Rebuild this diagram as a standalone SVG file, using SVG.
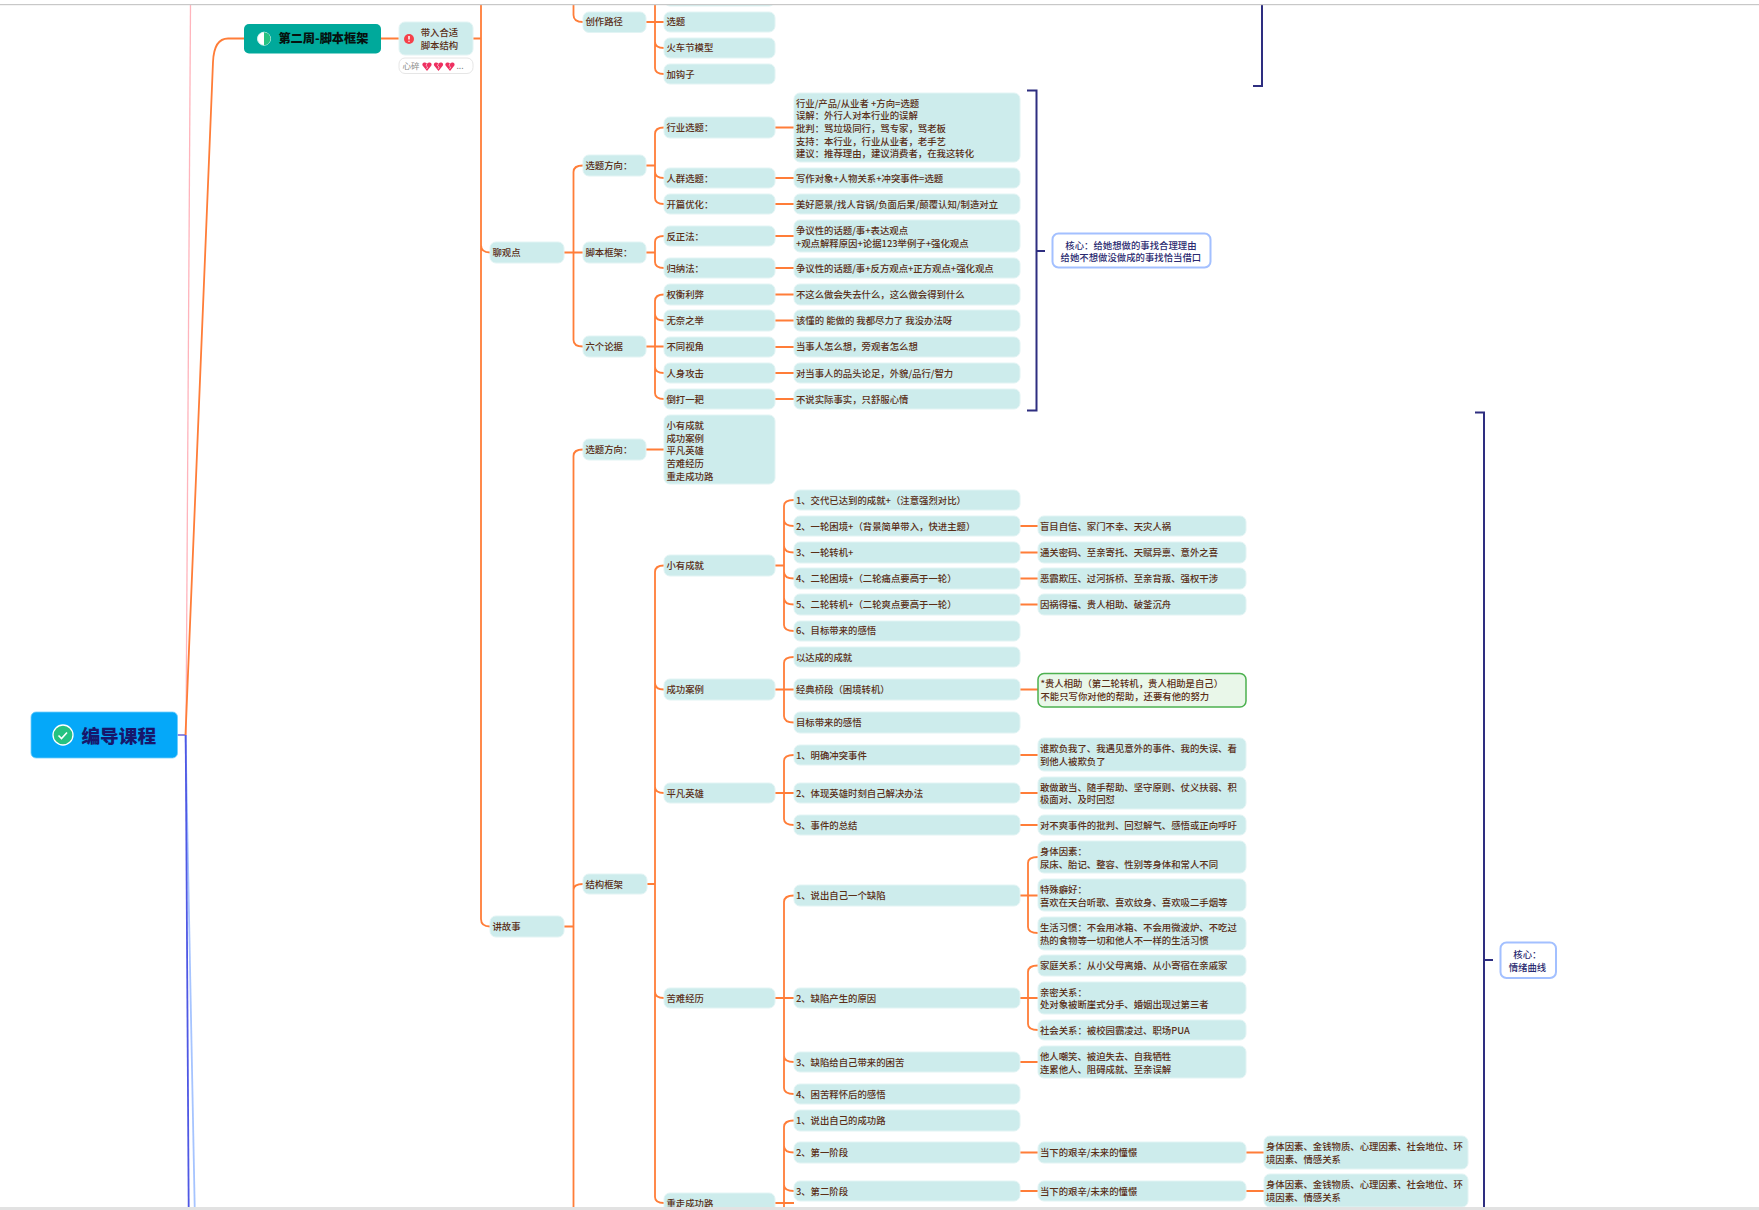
<svg xmlns="http://www.w3.org/2000/svg" width="1759" height="1210" viewBox="0 0 1759 1210">
<style>
text{font-family:"Noto Sans CJK SC","Liberation Sans",sans-serif;font-size:9.4px;font-weight:500;fill:#5a2e16;transform:translate(-.6px,-.4px)}
.n{fill:#cdecec;stroke:#e2f4f4;stroke-width:1}
.c{text-anchor:middle}
.k{fill:#fff;stroke:#a3c0ff;stroke-width:2}
.kt{fill:#2a2a70}
.l{fill:none;stroke:#ff7d38;stroke-width:1.8}
.b{fill:none;stroke:#2e2e80;stroke-width:2}
</style>
<defs><g id="heart"><path d="M0 4.500l-4.200-5.200c-1.600-2.500 1.800-4.800 4.200-2.300 2.400-2.500 5.800-.2 4.200 2.300z" fill="#ee3060"/><path d="M0-3l-1 2 1.600 1.500-1 2" fill="none" stroke="#fff" stroke-width=".6"/></g></defs>
<rect width="1759" height="1210" fill="#fff"/>
<g id="connectors">
<path d="M190.5 5L186 735" fill="none" stroke="#ffb4bc" stroke-width="1.3"/>
<path d="M185.500 735L194.700 1207" fill="none" stroke="#a6c4ff" stroke-width="1.8"/>
<path d="M185.700 735L188.700 1207" fill="none" stroke="#4f58e4" stroke-width="1.8"/>
<path d="M177 735H185.500" fill="none" stroke="#6a63d8" stroke-width="1.5"/>
<path class="l" d="M185.500 735L213 62Q214 38.500 228 38.500H244"/>
<path class="l" d="M381 38.500H399M473 38.500H481M481 5V245Q481 252.500 490 252.500M481 240V919Q481 926.500 490 926.500"/>
<path class="l" d="M573.500 5V15Q573.500 22 583 22M564 252.500H583M583 165.500Q573.500 165.500 573.500 172V340Q573.500 346.500 583 346.500M564 926.500H573.500M583 449.500Q573.500 449.500 573.500 456V1207M583 884Q573.500 884 573.500 890"/>
<path class="l" d="M646 22H664M655 5V68Q655 74 664 74M655 42Q655 48 664 48"/>
<path class="l" d="M646 165.500H655M664 127.500Q655 127.500 655 134V198Q655 204 664 204M655 172Q655 178 664 178"/>
<path class="l" d="M646 252.500H655M664 236Q655 236 655 242V262Q655 268 664 268"/>
<path class="l" d="M646 346.500H664M664 294.500Q655 294.500 655 301V393Q655 399 664 399M655 314Q655 320.500 664 320.500M655 367Q655 373 664 373"/>
<path class="l" d="M775 127.500H794M775 178H794M775 204H794M775 236H794M775 268H794M775 294.500H794M775 320.500H794M775 347H794M775 373H794M775 399H794"/>
<path class="l" d="M646 449.500H664M647 884H655M664 565.500Q655 565.500 655 572V1197Q655 1203 664 1203M655 683Q655 689.500 664 689.500M655 787Q655 793 664 793M655 992Q655 998 664 998"/>
<path class="l" d="M775 565.500H784M794 500Q784 500 784 506V625Q784 631 794 631M784 520Q784 526 794 526M784 546Q784 552.500 794 552.500M784 572Q784 578.500 794 578.500M784 598Q784 604.500 794 604.500"/>
<path class="l" d="M1020 526H1038M1020 552.500H1038M1020 578.500H1038M1020 604.500H1038"/>
<path class="l" d="M775 689.500H794M794 657Q784 657 784 663V716Q784 722.500 794 722.500M1020 689.500H1038"/>
<path class="l" d="M775 793H794M794 755Q784 755 784 761V819Q784 825 794 825M1020 755H1038M1020 793H1038M1020 825H1038"/>
<path class="l" d="M775 998H794M794 895.500Q784 895.500 784 902V1088Q784 1094 794 1094M784 1056Q784 1062 794 1062M1020 1062H1038"/>
<path class="l" d="M1020 895.500H1038M1038 857Q1028 857 1028 863V927Q1028 933 1038 933"/>
<path class="l" d="M1020 998H1038M1038 965.500Q1028 965.500 1028 972V1024Q1028 1030 1038 1030"/>
<path class="l" d="M775 1203H794M794 1120.500Q784 1120.500 784 1127V1207M784 1146Q784 1152.500 794 1152.500M784 1185Q784 1191 794 1191M1020 1152.500H1038M1020 1191H1038M1245 1152.500H1264M1245 1191H1264"/>
<path class="b" d="M1253 86H1262V5M1027 90.500H1036.500V410.500H1027M1036.500 251H1045M1475 412.500H1484V1207M1484 960H1493"/>
</g>
<g id="root"><rect x="31" y="712" width="146.500" height="46" rx="5" fill="#05a8f9" stroke="#6fcdfb" stroke-width=".8"/><circle cx="63" cy="735" r="10" fill="#26c281" stroke="#fff" stroke-width="1.3"/><path d="M58.500 735.500l3 3 5.500-6" fill="none" stroke="#fff" stroke-width="1.6"/><text x="82" y="743" style="font-size:18.700px;font-weight:900;fill:#17176b">编导课程</text></g>
<g id="week2"><rect x="244" y="24" width="137" height="29.500" rx="5" fill="#00a99b"/><circle cx="264" cy="38.700" r="6.500" fill="#fff" stroke="#d8f5ee" stroke-width="1"/><path d="M264 32.200a6.500 6.500 0 0 1 0 13z" fill="#26c281"/><text x="279" y="43.500" style="font-size:12.200px;font-weight:900;fill:#06120f">第二周-脚本框架</text></g>
<g id="bring"><rect class="n" x="399" y="22" width="74" height="33" rx="6"/><circle cx="409" cy="39" r="5" fill="#f5414a"/><path d="M409 36v3.500M409 40.800v1" stroke="#fff" stroke-width="1.500" fill="none"/><text class="c" x="440" y="36.500">带入合适</text><text class="c" x="440" y="49.500">脚本结构</text></g>
<g id="tag"><rect x="399" y="58" width="74" height="15.500" rx="6" fill="#fff" stroke="#e6e6e6"/><text x="403" y="69.500" style="font-size:8.500px;font-weight:400;fill:#8a8a8a">心碎</text><use href="#heart" x="427" y="66.500"/><use href="#heart" x="438.500" y="66.500"/><use href="#heart" x="450" y="66.500"/><text x="457" y="69.500" style="font-size:8.500px;font-weight:400;fill:#8a8a8a">...</text></g>
<g id="n1"><rect class="n" x="664" y="-14" width="111" height="20" rx="6"/></g>
<g id="n2"><rect class="n" x="583" y="12" width="63" height="20.500" rx="6"/><text x="586" y="25.500">创作路径</text></g>
<g id="n3"><rect class="n" x="664" y="12" width="111" height="20" rx="6"/><text x="667" y="25.500">选题</text></g>
<g id="n4"><rect class="n" x="664" y="38" width="111" height="20" rx="6"/><text x="667" y="51.500">火车节模型</text></g>
<g id="n5"><rect class="n" x="664" y="64" width="111" height="20" rx="6"/><text x="667" y="78">加钩子</text></g>
<g id="n6"><rect class="n" x="490" y="242" width="74" height="21" rx="6"/><text x="493" y="256">聊观点</text></g>
<g id="n7"><rect class="n" x="583" y="155" width="63" height="21" rx="6"/><text x="586" y="169">选题方向：</text></g>
<g id="n8"><rect class="n" x="583" y="242" width="63" height="21" rx="6"/><text x="586" y="256">脚本框架：</text></g>
<g id="n9"><rect class="n" x="583" y="336" width="63" height="21" rx="6"/><text x="586" y="350">六个论据</text></g>
<g id="n10"><rect class="n" x="664" y="117" width="111" height="21" rx="6"/><text x="667" y="131">行业选题：</text></g>
<g id="n11"><rect class="n" x="664" y="168" width="111" height="20" rx="6"/><text x="667" y="182">人群选题：</text></g>
<g id="n12"><rect class="n" x="664" y="194" width="111" height="20" rx="6"/><text x="667" y="208">开篇优化：</text></g>
<g id="n13"><rect class="n" x="664" y="226" width="111" height="20" rx="6"/><text x="667" y="240">反正法：</text></g>
<g id="n14"><rect class="n" x="664" y="258" width="111" height="20" rx="6"/><text x="667" y="272">归纳法：</text></g>
<g id="n15"><rect class="n" x="664" y="284" width="111" height="21" rx="6"/><text x="667" y="298">权衡利弊</text></g>
<g id="n16"><rect class="n" x="664" y="310" width="111" height="21" rx="6"/><text x="667" y="324">无奈之举</text></g>
<g id="n17"><rect class="n" x="664" y="337" width="111" height="20" rx="6"/><text x="667" y="350">不同视角</text></g>
<g id="n18"><rect class="n" x="664" y="363" width="111" height="20" rx="6"/><text x="667" y="377">人身攻击</text></g>
<g id="n19"><rect class="n" x="664" y="389" width="111" height="20" rx="6"/><text x="667" y="403">倒打一耙</text></g>
<g id="n20"><rect class="n" x="794" y="93" width="226" height="69" rx="6"/><text x="796.500" y="107">行业/产品/从业者 +方向=选题</text><text x="796.500" y="119.500">误解：外行人对本行业的误解</text><text x="796.500" y="132.500">批判：骂垃圾同行，骂专家，骂老板</text><text x="796.500" y="145.500">支持：本行业，行业从业者，老手艺</text><text x="796.500" y="157.500">建议：推荐理由，建议消费者，在我这转化</text></g>
<g id="n21"><rect class="n" x="794" y="168" width="226" height="20" rx="6"/><text x="796.500" y="182">写作对象+人物关系+冲突事件=选题</text></g>
<g id="n22"><rect class="n" x="794" y="194" width="226" height="20" rx="6"/><text x="796.500" y="208">美好愿景/找人背锅/负面后果/颠覆认知/制造对立</text></g>
<g id="n23"><rect class="n" x="794" y="220" width="226" height="32" rx="6"/><text x="796.500" y="234">争议性的话题/事+表达观点</text><text x="796.500" y="247">+观点解释原因+论据123举例子+强化观点</text></g>
<g id="n24"><rect class="n" x="794" y="258" width="226" height="20" rx="6"/><text x="796.500" y="272">争议性的话题/事+反方观点+正方观点+强化观点</text></g>
<g id="n25"><rect class="n" x="794" y="284" width="226" height="21" rx="6"/><text x="796.500" y="298">不这么做会失去什么，这么做会得到什么</text></g>
<g id="n26"><rect class="n" x="794" y="310" width="226" height="21" rx="6"/><text x="796.500" y="324">该懂的 能做的 我都尽力了 我没办法呀</text></g>
<g id="n27"><rect class="n" x="794" y="337" width="226" height="20" rx="6"/><text x="796.500" y="350">当事人怎么想，旁观者怎么想</text></g>
<g id="n28"><rect class="n" x="794" y="363" width="226" height="20" rx="6"/><text x="796.500" y="377">对当事人的品头论足，外貌/品行/智力</text></g>
<g id="n29"><rect class="n" x="794" y="389" width="226" height="20" rx="6"/><text x="796.500" y="403">不说实际事实，只舒服心情</text></g>
<g id="core1"><rect class="k" x="1052.500" y="233.500" width="158" height="34" rx="6"/><text class="c kt" x="1131.500" y="249">核心：给她想做的事找合理理由</text><text class="c kt" x="1131.500" y="261.500">给她不想做没做成的事找恰当借口</text></g>
<g id="n30"><rect class="n" x="490" y="916" width="74" height="21" rx="6"/><text x="493" y="930">讲故事</text></g>
<g id="n31"><rect class="n" x="583" y="439" width="63" height="21" rx="6"/><text x="586" y="453">选题方向：</text></g>
<g id="n32"><rect class="n" x="583" y="874" width="64" height="20" rx="6"/><text x="586" y="888">结构框架</text></g>
<g id="n33"><rect class="n" x="664" y="415" width="111" height="69" rx="6"/><text x="667" y="429">小有成就</text><text x="667" y="442">成功案例</text><text x="667" y="454">平凡英雄</text><text x="667" y="467">苦难经历</text><text x="667" y="480">重走成功路</text></g>
<g id="n34"><rect class="n" x="664" y="555" width="111" height="21" rx="6"/><text x="667" y="569">小有成就</text></g>
<g id="n35"><rect class="n" x="664" y="679" width="111" height="21" rx="6"/><text x="667" y="693">成功案例</text></g>
<g id="n36"><rect class="n" x="664" y="783" width="111" height="20" rx="6"/><text x="667" y="797">平凡英雄</text></g>
<g id="n37"><rect class="n" x="664" y="988" width="111" height="20" rx="6"/><text x="667" y="1002">苦难经历</text></g>
<g id="n38"><rect class="n" x="664" y="1193" width="111" height="21" rx="6"/><text x="667" y="1207">重走成功路</text></g>
<g id="n39"><rect class="n" x="794" y="490" width="226" height="20" rx="6"/><text x="796.500" y="504">1、交代已达到的成就+（注意强烈对比）</text></g>
<g id="n40"><rect class="n" x="794" y="516" width="226" height="20" rx="6"/><text x="796.500" y="530">2、一轮困境+（背景简单带入，快进主题）</text></g>
<g id="n41"><rect class="n" x="794" y="542" width="226" height="21" rx="6"/><text x="796.500" y="556">3、一轮转机+</text></g>
<g id="n42"><rect class="n" x="794" y="568" width="226" height="21" rx="6"/><text x="796.500" y="582">4、二轮困境+（二轮痛点要高于一轮）</text></g>
<g id="n43"><rect class="n" x="794" y="594" width="226" height="21" rx="6"/><text x="796.500" y="608">5、二轮转机+（二轮爽点要高于一轮）</text></g>
<g id="n44"><rect class="n" x="794" y="621" width="226" height="20" rx="6"/><text x="796.500" y="634">6、目标带来的感悟</text></g>
<g id="n45"><rect class="n" x="1038" y="516" width="208" height="20" rx="6"/><text x="1040.500" y="530">盲目自信、家门不幸、天灾人祸</text></g>
<g id="n46"><rect class="n" x="1038" y="542" width="208" height="21" rx="6"/><text x="1040.500" y="556">通关密码、至亲寄托、天赋异禀、意外之喜</text></g>
<g id="n47"><rect class="n" x="1038" y="568" width="208" height="21" rx="6"/><text x="1040.500" y="582">恶霸欺压、过河拆桥、至亲背叛、强权干涉</text></g>
<g id="n48"><rect class="n" x="1038" y="594" width="208" height="21" rx="6"/><text x="1040.500" y="608">因祸得福、贵人相助、破釜沉舟</text></g>
<g id="n49"><rect class="n" x="794" y="647" width="226" height="20" rx="6"/><text x="796.500" y="661">以达成的成就</text></g>
<g id="n50"><rect class="n" x="794" y="679" width="226" height="21" rx="6"/><text x="796.500" y="693">经典桥段（困境转机）</text></g>
<g id="n51"><rect class="n" x="794" y="712" width="226" height="21" rx="6"/><text x="796.500" y="726">目标带来的感悟</text></g>
<g id="n52"><rect x="1038" y="673.500" width="208" height="33.500" rx="6" fill="#e9f7e9" stroke="#4cb14f" stroke-width="1.500"/><text x="1041" y="687.500">*贵人相助（第二轮转机，贵人相助是自己）</text><text x="1041" y="700.500">不能只写你对他的帮助，还要有他的努力</text></g>
<g id="n53"><rect class="n" x="794" y="745" width="226" height="20" rx="6"/><text x="796.500" y="759">1、明确冲突事件</text></g>
<g id="n54"><rect class="n" x="1038" y="738" width="208" height="33" rx="6"/><text x="1040.500" y="752.500">谁欺负我了、我遇见意外的事件、我的失误、看</text><text x="1040.500" y="765.500">到他人被欺负了</text></g>
<g id="n55"><rect class="n" x="794" y="783" width="226" height="20" rx="6"/><text x="796.500" y="797">2、体现英雄时刻自己解决办法</text></g>
<g id="n56"><rect class="n" x="1038" y="777" width="208" height="32" rx="6"/><text x="1040.500" y="791.500">敢做敢当、随手帮助、坚守原则、仗义扶弱、积</text><text x="1040.500" y="803.500">极面对、及时回怼</text></g>
<g id="n57"><rect class="n" x="794" y="815" width="226" height="20" rx="6"/><text x="796.500" y="829">3、事件的总结</text></g>
<g id="n58"><rect class="n" x="1038" y="815" width="208" height="20" rx="6"/><text x="1040.500" y="829">对不爽事件的批判、回怼解气、感悟或正向呼吁</text></g>
<g id="n59"><rect class="n" x="794" y="885" width="226" height="21" rx="6"/><text x="796.500" y="899">1、说出自己一个缺陷</text></g>
<g id="n60"><rect class="n" x="1038" y="841" width="208" height="32" rx="6"/><text x="1040.500" y="855.500">身体因素：</text><text x="1040.500" y="868.500">尿床、胎记、整容、性别等身体和常人不同</text></g>
<g id="n61"><rect class="n" x="1038" y="879" width="208" height="32" rx="6"/><text x="1040.500" y="893.500">特殊癖好：</text><text x="1040.500" y="906.500">喜欢在天台听歌、喜欢纹身、喜欢吸二手烟等</text></g>
<g id="n62"><rect class="n" x="1038" y="917" width="208" height="33" rx="6"/><text x="1040.500" y="931.500">生活习惯：不会用冰箱、不会用微波炉、不吃过</text><text x="1040.500" y="944.500">热的食物等一切和他人不一样的生活习惯</text></g>
<g id="n63"><rect class="n" x="794" y="988" width="226" height="20" rx="6"/><text x="796.500" y="1002">2、缺陷产生的原因</text></g>
<g id="n64"><rect class="n" x="1038" y="955" width="208" height="21" rx="6"/><text x="1040.500" y="969">家庭关系：从小父母离婚、从小寄宿在亲戚家</text></g>
<g id="n65"><rect class="n" x="1038" y="982" width="208" height="32" rx="6"/><text x="1040.500" y="996.500">亲密关系：</text><text x="1040.500" y="1008.500">处对象被断崖式分手、婚姻出现过第三者</text></g>
<g id="n66"><rect class="n" x="1038" y="1020" width="208" height="20" rx="6"/><text x="1040.500" y="1034">社会关系：被校园霸凌过、职场PUA</text></g>
<g id="n67"><rect class="n" x="794" y="1052" width="226" height="20" rx="6"/><text x="796.500" y="1066">3、缺陷给自己带来的困苦</text></g>
<g id="n68"><rect class="n" x="1038" y="1046" width="208" height="32" rx="6"/><text x="1040.500" y="1060.500">他人嘲笑、被迫失去、自我牺牲</text><text x="1040.500" y="1073.500">连累他人、阻碍成就、至亲误解</text></g>
<g id="n69"><rect class="n" x="794" y="1084" width="226" height="20" rx="6"/><text x="796.500" y="1098">4、困苦释怀后的感悟</text></g>
<g id="n70"><rect class="n" x="794" y="1110" width="226" height="21" rx="6"/><text x="796.500" y="1124">1、说出自己的成功路</text></g>
<g id="n71"><rect class="n" x="794" y="1142" width="226" height="21" rx="6"/><text x="796.500" y="1156">2、第一阶段</text></g>
<g id="n72"><rect class="n" x="1038" y="1142" width="208" height="21" rx="6"/><text x="1040.500" y="1156">当下的艰辛/未来的憧憬</text></g>
<g id="n73"><rect class="n" x="1264" y="1136" width="204" height="33" rx="6"/><text x="1266.500" y="1150.500">身体因素、金钱物质、心理因素、社会地位、环</text><text x="1266.500" y="1163.500">境因素、情感关系</text></g>
<g id="n74"><rect class="n" x="794" y="1181" width="226" height="20" rx="6"/><text x="796.500" y="1195">3、第二阶段</text></g>
<g id="n75"><rect class="n" x="1038" y="1181" width="208" height="20" rx="6"/><text x="1040.500" y="1195">当下的艰辛/未来的憧憬</text></g>
<g id="n76"><rect class="n" x="1264" y="1174" width="204" height="33" rx="6"/><text x="1266.500" y="1188.500">身体因素、金钱物质、心理因素、社会地位、环</text><text x="1266.500" y="1201">境因素、情感关系</text></g>
<g id="core2"><rect class="k" x="1500.500" y="942.500" width="55.500" height="35.500" rx="6"/><text class="c kt" x="1528" y="958.500">核心：</text><text class="c kt" x="1528" y="971">情绪曲线</text></g>
<rect width="1759" height="4" fill="#fff"/>
<rect y="4" width="1759" height="1.200" fill="#c8c8c8"/>
<rect y="1207" width="1759" height="3" fill="#e2e2e2"/>
</svg>
